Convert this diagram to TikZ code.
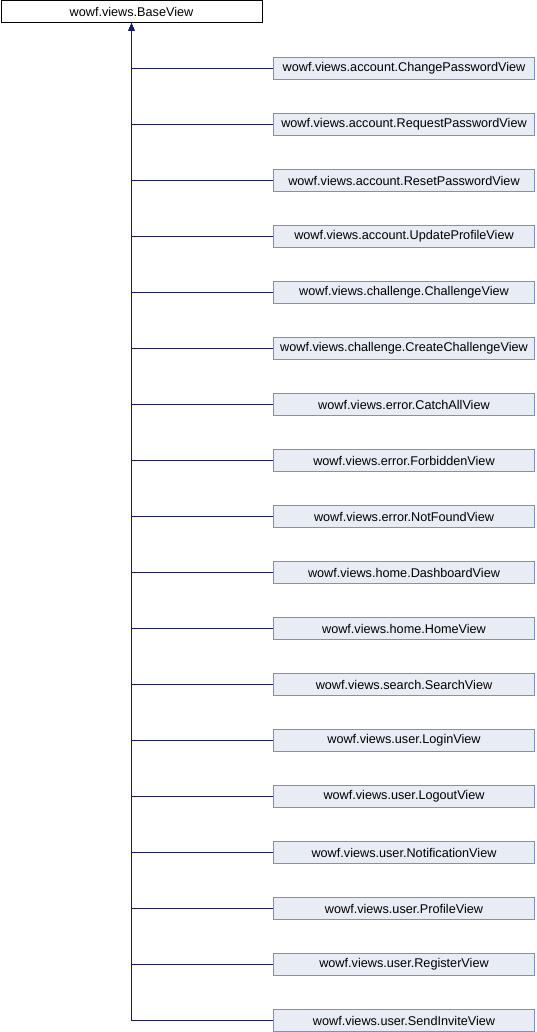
\documentclass[tikz,border=0pt]{standalone}
\usepackage{fontspec}
\setmainfont{Liberation Sans}
\usetikzlibrary{arrows.meta}
\definecolor{edgeblue}{HTML}{191970}
\definecolor{childfill}{HTML}{E8ECF5}
\definecolor{childdraw}{HTML}{7B8FCA}
\begin{document}
\begin{tikzpicture}[x=0.75pt,y=-0.75pt,
  basebox/.style={draw=black,fill=white,line width=0.75pt,minimum width=195.75pt,minimum height=16.5pt,inner sep=0pt,font=\fontsize{9.5}{11}\selectfont},
  childbox/.style={draw=childdraw,fill=childfill,line width=0.75pt,minimum width=195.75pt,minimum height=16.5pt,inner sep=0pt,font=\fontsize{9.5}{11}\selectfont},
  inherit/.style={draw=edgeblue,line width=0.75pt,-{Latex[length=5.5pt,width=4.5pt]}}]
\useasboundingbox (0,0) rectangle (536,1032);
\node[basebox] (b) at (131.5,11.5) {wowf.views.BaseView};
\foreach \k/\t in {0/wowf.views.account.ChangePasswordView,
  1/wowf.views.account.RequestPasswordView,
  2/wowf.views.account.ResetPasswordView,
  3/wowf.views.account.UpdateProfileView,
  4/wowf.views.challenge.ChallengeView,
  5/wowf.views.challenge.CreateChallengeView,
  6/wowf.views.error.CatchAllView,
  7/wowf.views.error.ForbiddenView,
  8/wowf.views.error.NotFoundView,
  9/wowf.views.home.DashboardView,
  10/wowf.views.home.HomeView,
  11/wowf.views.search.SearchView,
  12/wowf.views.user.LoginView,
  13/wowf.views.user.LogoutView,
  14/wowf.views.user.NotificationView,
  15/wowf.views.user.ProfileView,
  16/wowf.views.user.RegisterView,
  17/wowf.views.user.SendInviteView}{
  \node[childbox] (c\k) at (404,68.5+56*\k) {\t};
  \draw[inherit] (c\k.west) -| (b.south);
}
\end{tikzpicture}
\end{document}
